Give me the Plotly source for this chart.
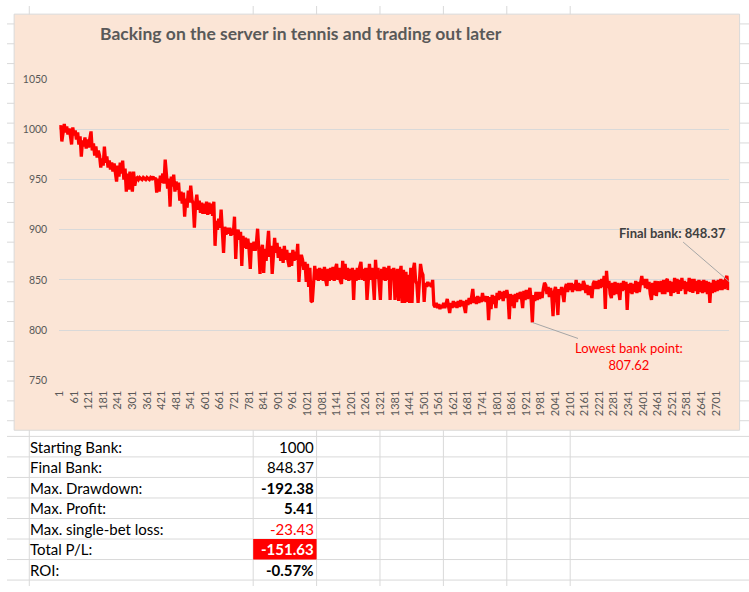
import plotly.graph_objects as go

# ---------------- data ----------------
bank_values = [
    # 1 - 96
    1000, 1004, 988, 1001, 1005.41, 997, 1003, 995, 1001, 994, 985, 1002, 994, 999, 990, 997, 985, 993, 973, 989,
    # 101 - 196
    983, 992, 981, 990, 982, 991, 998, 979, 986, 974, 983, 972, 979, 974, 962, 971, 964, 983, 967, 973,
    # 201 - 296
    962, 969, 960, 967, 958, 966, 956, 948, 964, 953, 967, 956, 969, 950, 961, 938, 956, 940, 958, 944,
    # 301 - 396
    938, 958, 944, 951, 952, 950, 952, 951, 950, 952, 951, 950, 952, 951, 950, 952, 951, 953, 950, 952,
    # 401 - 496
    937, 951, 938, 954, 947, 956, 946, 970, 958, 941, 951, 923, 953, 943, 955, 938, 948, 940, 947, 929,
    # 501 - 596
    938, 926, 937, 913, 931, 922, 939, 927, 944, 930, 926, 902, 926, 935, 920, 929, 917, 927, 916, 926,
    # 601 - 696
    916, 928, 915, 927, 916, 926, 914, 928, 884, 909, 900, 911, 902, 920, 899, 877, 903, 895, 902, 896,
    # 701 - 796
    902, 894, 901, 895, 913, 871, 897, 900, 890, 898, 864, 894, 882, 892, 881, 891, 880, 861, 887, 879,
    # 801 - 896
    888, 879, 887, 901, 880, 856, 879, 885, 857, 881, 869, 888, 899, 873, 884, 856, 876, 892, 877, 887,
    # 901 - 996
    872, 883, 869, 881, 867, 884, 870, 880, 869, 863, 877, 864, 880, 869, 878, 870, 886, 848, 868, 875,
    # 1001 - 1096
    870, 860, 868, 848, 866, 843, 862, 829, 828, 848, 864, 850, 861, 849, 862, 850, 861, 849, 863, 850,
    # 1101 - 1196
    844, 861, 849, 862, 850, 863, 849, 861, 866, 850, 862, 849, 846, 869, 851, 866, 850, 862, 849, 861,
    # 1201 - 1296
    850, 862, 830, 860, 849, 862, 850, 863, 868, 850, 861, 849, 862, 830, 852, 866, 850, 862, 849, 830,
    # 1301 - 1396
    870, 851, 862, 849, 830, 861, 850, 863, 849, 862, 850, 864, 830, 861, 850, 862, 830, 852, 861, 829,
    # 1401 - 1496
    856, 864, 827, 860, 827, 858, 828, 855, 827, 862, 827, 860, 867, 849, 846, 827, 848, 866, 858, 855,
    # 1501 - 1596
    828, 847, 843, 848, 844, 847, 843, 850, 825, 823, 827, 822, 826, 821, 825, 822, 827, 822, 826, 831,
    # 1601 - 1696
    824, 817, 827, 822, 829, 823, 828, 822, 829, 823, 830, 824, 829, 823, 817, 830, 825, 832, 826, 833,
    # 1701 - 1796
    841, 827, 833, 826, 834, 827, 833, 828, 837, 829, 834, 828, 834, 810, 833, 821, 835, 826, 834, 822,
    # 1801 - 1896
    837, 830, 839, 831, 838, 829, 839, 832, 840, 833, 811, 836, 824, 835, 822, 836, 828, 837, 831, 838,
    # 1901 - 1996
    833, 822, 839, 830, 840, 831, 839, 842, 830, 807.62, 835, 829, 838, 830, 838, 831, 838, 832, 841, 847,
    # 2001 - 2096
    845, 836, 843, 833, 842, 834, 814, 838, 843, 835, 815, 841, 835, 843, 836, 828, 842, 846, 838, 847,
    # 2101 - 2196
    840, 847, 838, 846, 840, 850, 839, 847, 839, 846, 840, 849, 845, 837, 845, 835, 844, 837, 832, 846,
    # 2201 - 2296
    849, 841, 849, 841, 850, 842, 851, 843, 854, 821, 859, 842, 849, 836, 832, 847, 835, 848, 836, 847,
    # 2301 - 2396
    838, 830, 847, 839, 849, 840, 848, 820, 846, 837, 847, 836, 846, 838, 849, 837, 848, 838, 847, 854,
    # 2401 - 2496
    845, 851, 842, 851, 841, 848, 836, 830, 847, 835, 849, 834, 847, 848, 838, 849, 836, 850, 836, 849,
    # 2501 - 2596
    851, 838, 849, 834, 848, 837, 852, 838, 851, 836, 850, 839, 852, 841, 849, 836, 848, 839, 852, 838,
    # 2601 - 2696
    851, 837, 851, 839, 849, 836, 850, 838, 849, 837, 850, 838, 849, 836, 848, 827, 847, 837, 850, 838,
    # 2701 - 2755
    849, 839, 850, 840, 851, 840, 850, 841, 851, 854, 840, 848.37,
]
# bet numbers of the sampled points (every 5th bet, plus the final bet)
bet_no = list(range(1, 2751, 5)) + [2751, 2755]

tick_labels = [1, 61, 121, 181, 241, 301, 361, 421, 481, 541, 601, 661, 721, 781, 841, 901,
               961, 1021, 1081, 1141, 1201, 1261, 1321, 1381, 1441, 1501, 1561, 1621, 1681,
               1741, 1801, 1861, 1921, 1981, 2041, 2101, 2161, 2221, 2281, 2341, 2401, 2461,
               2521, 2581, 2641, 2701]
y_ticks = [750, 800, 850, 900, 950, 1000, 1050]

table_labels = ["Starting Bank:", "Final Bank:", "Max. Drawdown:", "Max. Profit:",
                "Max. single-bet loss:", "Total P/L:", "ROI:"]
table_values = ["1000", "848.37", "-192.38", "5.41", "-23.43", "-151.63", "-0.57%"]

# ---------------- layout helpers ----------------
W, H = 749, 592
def X(px):
    return px / W
def Y(py):
    return 1 - py / H

FONT = "Lato"
GRID = "#D9D9D9"

fig = go.Figure()
fig.add_trace(go.Scatter(
    x=bet_no, y=bank_values, mode="lines",
    line=dict(color="#FF0000", width=3.3), hoverinfo="skip", showlegend=False,
))

shapes = []
# spreadsheet grid (behind the chart)
col_lines = [22.5, 248.5, 312.5, 376.5, 440.5, 504.5, 568.5]
for cx in col_lines:
    shapes.append(dict(type="line", xref="paper", yref="paper", x0=X(cx), x1=X(cx), y0=0, y1=1,
                       line=dict(color=GRID, width=1), layer="below"))
row_lines = [18.3 + 20.25 * k for k in range(21)] + [439.3 + 20.95 * k for k in range(8)]
for ry in row_lines:
    shapes.append(dict(type="line", xref="paper", yref="paper", x0=0, x1=1, y0=Y(ry), y1=Y(ry),
                       line=dict(color=GRID, width=1), layer="below"))
# chart area
shapes.append(dict(type="rect", xref="paper", yref="paper", x0=X(7.2), x1=X(739.5), y0=Y(433), y1=Y(8.3),
                   fillcolor="#FBE5D6", line=dict(color="#D9D9D9", width=1), layer="below"))
# red cell for Total P/L
shapes.append(dict(type="rect", xref="paper", yref="paper", x0=X(248.5), x1=X(312.5),
                   y0=Y(439.3 + 20.95 * 6), y1=Y(439.3 + 20.95 * 5),
                   fillcolor="#FF0000", line=dict(width=0), layer="below"))

annotations = []
# title
annotations.append(dict(xref="paper", yref="paper", x=X(297), y=Y(28),
                        text="<b>Backing on the server in tennis and trading out later</b>",
                        showarrow=False, font=dict(family=FONT, size=17.5, color="#595959"),
                        xanchor="center", yanchor="middle"))
# final bank callout
annotations.append(dict(x=bet_no[-1], y=bank_values[-1], xref="x", yref="y",
                        text=f"<b>Final bank: {bank_values[-1]:.2f}</b>",
                        showarrow=True, arrowhead=0, arrowwidth=1, arrowcolor="#A6A6A6",
                        ax=-57, ay=-49, font=dict(family=FONT, size=13, color="#404040")))
# lowest point callout
imin = bank_values.index(min(bank_values))
annotations.append(dict(x=bet_no[imin], y=bank_values[imin], xref="x", yref="y",
                        text=f"Lowest bank point:<br>{bank_values[imin]:.2f}",
                        showarrow=True, arrowhead=0, arrowwidth=1, arrowcolor="#A6A6A6",
                        ax=97, ay=34, align="center",
                        font=dict(family=FONT, size=13, color="#FF0000")))

# table text
bold_rows = {2, 3, 5, 6}
for i, (lab, val) in enumerate(zip(table_labels, table_values)):
    cy = 439.3 + 20.95 * i + 10.5
    annotations.append(dict(xref="paper", yref="paper", x=X(21), y=Y(cy), text=lab,
                            showarrow=False, xanchor="left", yanchor="middle",
                            font=dict(family=FONT, size=15, color="#000000")))
    color = "#000000"
    if i == 4:
        color = "#FF0000"
    if i == 5:
        color = "#FFFFFF"
    txt = f"<b>{val}</b>" if i in bold_rows else val
    annotations.append(dict(xref="paper", yref="paper", x=X(311.5), y=Y(cy), text=txt,
                            showarrow=False, xanchor="right", yanchor="middle",
                            font=dict(family=FONT, size=15, color=color)))

fig.update_layout(
    width=W, height=H, autosize=False,
    margin=dict(l=0, r=0, t=0, b=0, pad=0),
    paper_bgcolor="#FFFFFF", plot_bgcolor="rgba(0,0,0,0)",
    shapes=shapes, annotations=annotations, showlegend=False,
    xaxis=dict(domain=[X(52.8), X(729)], range=[0.5, 2755.5], tickmode="array",
               tickvals=tick_labels, ticktext=[str(t) for t in tick_labels], tickangle=-90,
               showgrid=False, zeroline=False, showline=False,
               ticks="outside", ticklen=5, tickcolor="rgba(0,0,0,0)",
               tickfont=dict(family=FONT, size=11, color="#595959")),
    yaxis=dict(domain=[Y(382), Y(74.8)], range=[750, 1050], tickmode="array", tickvals=y_ticks,
               showgrid=True, gridcolor=GRID, gridwidth=1, zeroline=False, showline=False,
               ticks="outside", ticklen=9, tickcolor="rgba(0,0,0,0)",
               tickfont=dict(family=FONT, size=10.5, color="#595959")),
)

fig.write_html("out.html")
